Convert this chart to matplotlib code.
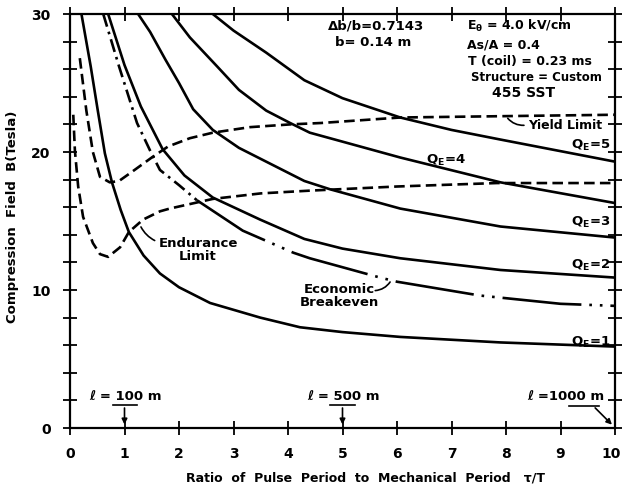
import matplotlib.pyplot as plt
from matplotlib.transforms import offset_copy

# ratio tau/T vs compression field B (Tesla), one curve per Q_E
qe1_x = [0.21, 0.38, 0.51, 0.64, 0.77, 0.93, 1.08, 1.35, 1.65, 2.0, 2.57, 3.49, 4.22, 5.0, 6.06, 7.9, 10.0]
qe1_y = [30.0, 26.2, 23.0, 19.9, 17.8, 15.8, 14.2, 12.5, 11.2, 10.2, 9.06, 8.0, 7.3, 6.95, 6.6, 6.2, 5.9]

qe2_x = [0.70, 1.0, 1.30, 1.70, 2.1, 2.62, 3.49, 4.3, 5.0, 6.06, 7.9, 10.0]
qe2_y = [30.0, 26.3, 23.3, 20.2, 18.3, 16.7, 15.1, 13.7, 13.0, 12.3, 11.45, 10.9]

qe3_x = [1.25, 1.47, 1.75, 2.0, 2.26, 2.62, 3.1, 3.6, 4.3, 4.77, 6.06, 7.9, 10.0]
qe3_y = [30.0, 28.7, 26.7, 25.0, 23.1, 21.6, 20.3, 19.3, 17.9, 17.3, 15.9, 14.6, 13.8]

qe4_x = [1.87, 2.2, 2.7, 3.1, 3.6, 4.04, 4.4, 5.0, 6.06, 7.9, 10.0]
qe4_y = [30.0, 28.3, 26.2, 24.5, 23.0, 22.1, 21.4, 20.75, 19.6, 17.8, 16.3]

qe5_x = [2.62, 3.0, 3.6, 4.3, 5.0, 6.06, 7.0, 7.9, 10.0]
qe5_y = [30.0, 28.8, 27.2, 25.2, 23.9, 22.5, 21.6, 20.9, 19.3]

econ_x = [0.61, 0.90, 1.23, 1.47, 1.65, 2.0, 2.33, 3.17, 4.1, 4.4, 5.0, 5.69, 6.0, 7.52, 9.0, 10.0]
econ_y = [30.0, 26.2, 22.1, 20.1, 18.7, 17.6, 16.5, 14.3, 12.7, 12.3, 11.65, 10.9, 10.6, 9.6, 9.0, 8.85]

yield_x = [0.18, 0.30, 0.42, 0.55, 0.73, 0.90, 1.15, 1.5, 1.8, 2.2, 2.62, 3.3, 4.04, 4.6, 6.06, 8.0, 10.0]
yield_y = [26.8, 23.0, 20.0, 18.2, 17.8, 17.9, 18.6, 19.6, 20.4, 21.0, 21.4, 21.8, 22.0, 22.1, 22.5, 22.6, 22.7]

endur_x = [0.06, 0.09, 0.15, 0.24, 0.42, 0.55, 0.70, 0.92, 1.08, 1.34, 1.65, 1.83, 2.62, 3.5, 4.4, 6.0, 7.83, 10.0]
endur_y = [22.7, 20.1, 17.5, 15.3, 13.4, 12.6, 12.4, 13.1, 14.2, 15.1, 15.7, 15.9, 16.6, 17.0, 17.2, 17.5, 17.75, 17.75]

x_ticks = list(range(11))
y_ticks = [0, 10, 20, 30]

plt.rcParams['font.family'] = 'DejaVu Sans'
plt.rcParams['font.weight'] = 'bold'
plt.rcParams['axes.labelweight'] = 'bold'
plt.rcParams['mathtext.default'] = 'bf'

fig = plt.figure(figsize=(6.22, 4.90), dpi=100)
ax = fig.add_axes([70 / 622, 1 - 428 / 490, 545 / 622, 414 / 490])

lw = 1.9
for xs, ys in [(qe1_x, qe1_y), (qe2_x, qe2_y), (qe3_x, qe3_y), (qe4_x, qe4_y), (qe5_x, qe5_y)]:
    ax.plot(xs, ys, color='black', lw=lw, solid_capstyle='round')

# economic breakeven: dash-dot near the top, long dash with double dots further out
ax.plot(econ_x[:7], econ_y[:7], color='black', lw=lw, linestyle=(0, (5, 2, 1, 2)))
ax.plot(econ_x[6:], econ_y[6:], color='black', lw=lw, linestyle=(0, (30, 3, 1, 3, 1, 3)))

ax.plot(yield_x, yield_y, color='black', lw=lw, linestyle=(0, (4, 2)))
ax.plot(endur_x, endur_y, color='black', lw=lw, linestyle=(0, (4, 2)))

ax.set_xlim(0, 10)
ax.set_ylim(0, 30)
ax.set_xticks(x_ticks)
ax.set_xticklabels([str(t) for t in x_ticks])
ax.set_yticks(y_ticks)
ax.set_yticks(range(0, 31, 2), minor=True)
for side in ['top', 'bottom', 'left', 'right']:
    ax.spines[side].set_linewidth(1.6)
ax.tick_params(axis='both', which='both', direction='inout', length=10, width=1.3,
               top=True, right=True, labelsize=10, pad=9)

# keep the last x label inside the canvas
last = ax.get_xticklabels()[-1]
last.set_transform(offset_copy(last.get_transform(), fig=fig, x=-4, units='dots'))

ax.set_xlabel('Ratio  of  Pulse  Period  to  Mechanical  Period   τ/T', fontsize=9)
ax.xaxis.set_label_coords(0.543, -0.105)
ax.set_ylabel('Compression  Field  B(Tesla)', fontsize=9.5)
ax.yaxis.set_label_coords(-0.094, 0.51)

fs = 9
ax.text(4.73, 29.1, 'Δb/b=0.7143', fontsize=9.5, va='center')
ax.text(4.86, 27.9, 'b= 0.14 m', fontsize=9.5, va='center')
ax.text(7.28, 29.1, r'$E_\theta$ = 4.0 kV/cm', fontsize=fs, va='center')
ax.text(7.28, 27.75, 'As/A = 0.4', fontsize=fs, va='center')
ax.text(7.3, 26.55, 'T (coil) = 0.23 ms', fontsize=fs, va='center')
ax.text(7.35, 25.4, 'Structure = Custom', fontsize=8.5, va='center')
ax.text(7.75, 24.3, '455 SST', fontsize=10, va='center')

ax.text(8.4, 21.95, 'Yield Limit', fontsize=fs, va='center')
ax.annotate('', xy=(8.0, 22.6), xytext=(8.38, 21.95),
            arrowprops=dict(arrowstyle='-', lw=1.2, connectionstyle='arc3,rad=-0.3'))

ax.text(9.92, 20.5, '$Q_E$=5', fontsize=9.5, ha='right', va='center')
ax.text(6.9, 19.4, '$Q_E$=4', fontsize=9.5, ha='center', va='center')
ax.text(9.92, 14.9, '$Q_E$=3', fontsize=9.5, ha='right', va='center')
ax.text(9.92, 11.8, '$Q_E$=2', fontsize=9.5, ha='right', va='center')
ax.text(9.92, 6.2, '$Q_E$=1', fontsize=9.5, ha='right', va='center')

ax.text(2.35, 12.9, 'Endurance\nLimit', fontsize=9.5, ha='center', va='center', linespacing=1.0)
ax.annotate('', xy=(1.28, 14.75), xytext=(1.6, 13.5),
            arrowprops=dict(arrowstyle='-', lw=1.2, connectionstyle='arc3,rad=-0.2'))

ax.text(4.95, 9.6, 'Economic\nBreakeven', fontsize=9.5, ha='center', va='center', linespacing=1.0)
ax.annotate('', xy=(5.9, 10.75), xytext=(5.55, 9.95),
            arrowprops=dict(arrowstyle='-', lw=1.2, connectionstyle='arc3,rad=0.3'))

# plant length markers along the x axis
for xc, label, x0, x1 in [(1, 'ℓ = 100 m', 0.79, 1.23), (5, 'ℓ = 500 m', 4.77, 5.23)]:
    ax.text(xc + 0.02, 2.25, label, fontsize=9.5, ha='center', va='center')
    ax.plot([x0, x1], [1.65, 1.65], color='black', lw=1.2)
    ax.annotate('', xy=(xc, 0.05), xytext=(xc, 1.65),
                arrowprops=dict(arrowstyle='-|>', lw=1.2, color='black', mutation_scale=8))
ax.text(9.1, 2.25, 'ℓ =1000 m', fontsize=9.5, ha='center', va='center')
ax.plot([9.15, 9.7], [1.6, 1.6], color='black', lw=1.2)
ax.annotate('', xy=(9.98, 0.1), xytext=(9.6, 1.6),
            arrowprops=dict(arrowstyle='-|>', lw=1.2, color='black', mutation_scale=8))

fig.savefig('out.png', dpi=100)
